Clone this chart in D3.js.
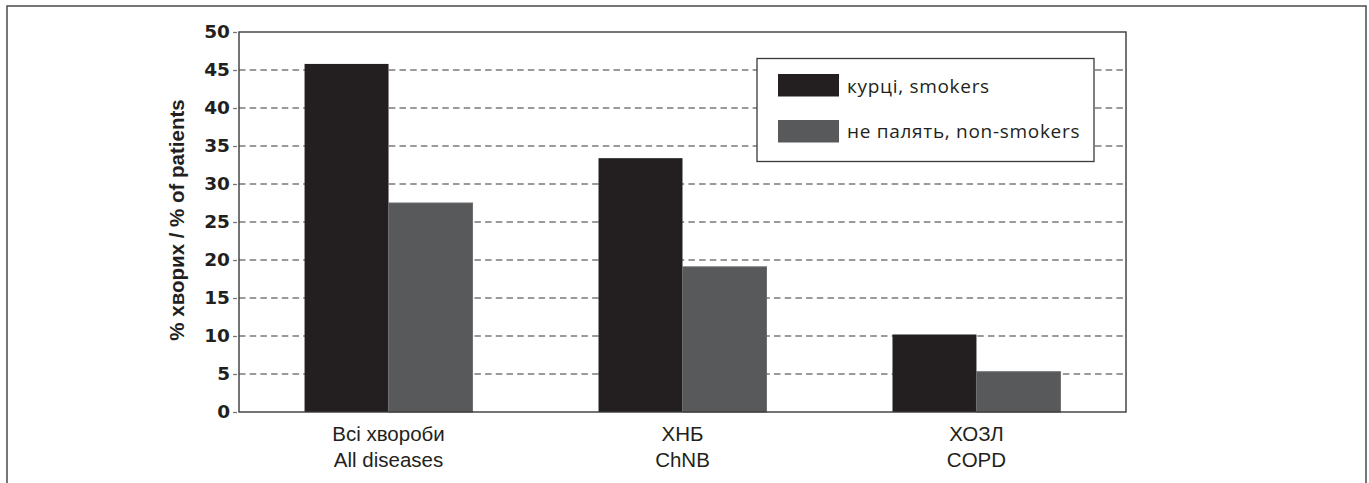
<!DOCTYPE html>
<html>
<head>
<meta charset="utf-8">
<script src="https://cdn.jsdelivr.net/npm/d3@7/dist/d3.min.js"></script>
<style>
  html, body { margin: 0; padding: 0; background: #fff; }
  svg { display: block; }
</style>
</head>
<body>
<script>
// Smoking prevalence among patients, by diagnosis
const categories = ["Всі хвороби\nAll diseases", "ХНБ\nChNB", "ХОЗЛ\nCOPD"];
const seriesNames = ["курці, smokers", "не палять, non-smokers"];
const smokers = [45.8, 33.4, 10.2];
const nonSmokers = [27.5, 19.1, 5.3];
const yTicks = [0, 5, 10, 15, 20, 25, 30, 35, 40, 45, 50];
const yLabel = "% хворих / % of patients";

const W = 1369, H = 483;
const plot = { left: 239, right: 1126, top: 32, bottom: 412 };
const colors = ["#231f20", "#58595b"];

const svg = d3.select("body").append("svg").attr("width", W).attr("height", H);

// outer frame
svg.append("rect")
  .attr("x", 7).attr("y", 6).attr("width", 1359).attr("height", 500)
  .attr("fill", "none").attr("stroke", "#555").attr("stroke-width", 1.6);

const y = d3.scaleLinear().domain([0, 50]).range([plot.bottom, plot.top]);
const x0 = d3.scaleBand().domain(categories).range([plot.left, plot.right])
  .paddingInner(0.4286).paddingOuter(0.223);
const x1 = d3.scaleBand().domain(seriesNames).range([0, x0.bandwidth()]);

// dashed gridlines
svg.append("g").selectAll("line")
  .data(yTicks.filter(t => t > 0 && t < 50))
  .join("line")
  .attr("x1", plot.left).attr("x2", plot.right)
  .attr("y1", d => y(d)).attr("y2", d => y(d))
  .attr("stroke", "#7a7a7a").attr("stroke-width", 1.3)
  .attr("stroke-dasharray", "6.5,4.2");

// bars
const rows = categories.map((c, i) => ({ cat: c, vals: [smokers[i], nonSmokers[i]] }));
const groups = svg.append("g").selectAll("g").data(rows).join("g")
  .attr("transform", d => `translate(${x0(d.cat)},0)`);
groups.selectAll("rect")
  .data(d => d.vals.map((v, k) => ({ name: seriesNames[k], v, k })))
  .join("rect")
  .attr("x", d => x1(d.name))
  .attr("y", d => y(d.v))
  .attr("width", x1.bandwidth())
  .attr("height", d => y(0) - y(d.v))
  .attr("fill", d => colors[d.k])
  .attr("stroke", d => d.k === 1 ? "#6e6f71" : "none")
  .attr("stroke-width", 1);

// plot frame
svg.append("rect")
  .attr("x", plot.left).attr("y", plot.top)
  .attr("width", plot.right - plot.left).attr("height", plot.bottom - plot.top)
  .attr("fill", "none").attr("stroke", "#3a3a3a").attr("stroke-width", 1.4);

// y axis
const yAxis = d3.axisLeft(y).tickValues(yTicks).tickSize(6).tickPadding(3);
const ga = svg.append("g").attr("transform", `translate(${plot.left},0)`).call(yAxis);
ga.select(".domain").remove();
ga.selectAll(".tick line").attr("stroke", "#777").attr("stroke-width", 1.3)
  .attr("x2", -6).attr("x1", -2);
ga.selectAll(".tick text")
  .attr("font-family", "DejaVu Sans").attr("font-weight", "bold")
  .attr("font-size", 18.5).attr("fill", "#231f20");

// y axis title
svg.append("text")
  .attr("transform", `translate(184,${(plot.top + plot.bottom) / 2 - 2}) rotate(-90)`)
  .attr("text-anchor", "middle")
  .attr("font-family", "Liberation Sans").attr("font-weight", "bold")
  .attr("font-size", 20.5).attr("fill", "#231f20")
  .text(yLabel);

// category labels (two lines each)
const xl = svg.append("g").selectAll("text").data(categories).join("text")
  .attr("text-anchor", "middle")
  .attr("font-family", "Liberation Sans").attr("font-size", 20.5).attr("fill", "#231f20");
xl.each(function (d) {
  const cx = x0(d) + x0.bandwidth() / 2;
  d.split("\n").forEach((line, i) => {
    d3.select(this).append("tspan").attr("x", cx).attr("y", 441 + i * 26).text(line);
  });
});

// legend
const lg = svg.append("g");
lg.append("rect").attr("x", 757).attr("y", 58.5).attr("width", 337).attr("height", 103)
  .attr("fill", "#fff").attr("stroke", "#3a3a3a").attr("stroke-width", 1.3);
seriesNames.forEach((name, k) => {
  lg.append("rect").attr("x", 778).attr("y", 74 + k * 46).attr("width", 61).attr("height", 22.5)
    .attr("fill", colors[k]);
  lg.append("text").attr("x", 847).attr("y", 92.7 + k * 45)
    .attr("font-family", "Open Sans").attr("font-size", 19).attr("letter-spacing", 0.7)
    .attr("fill", "#231f20").text(name);
});
</script>
</body>
</html>
